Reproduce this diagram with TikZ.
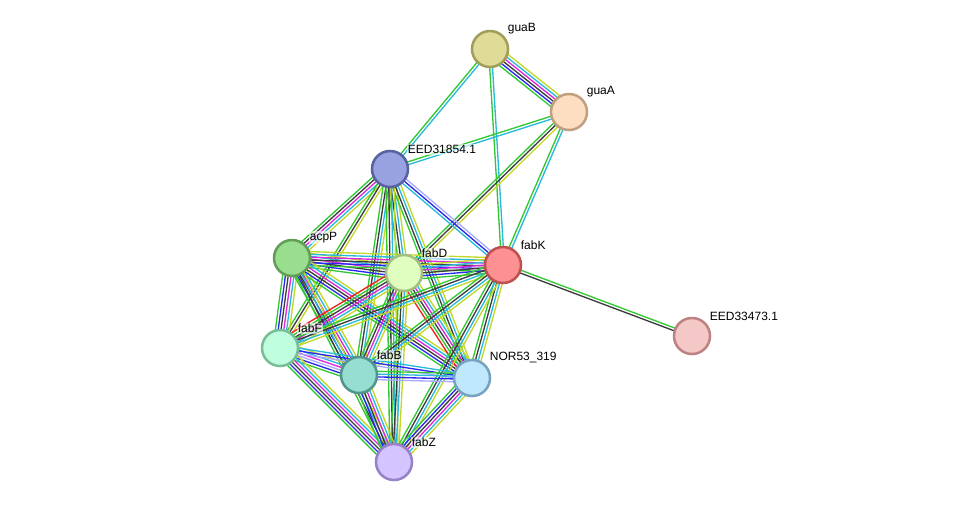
\documentclass[tikz,border=0pt]{standalone}
\usepackage{fontspec}
\setmainfont{Liberation Sans}
\usepackage{tikz}
\usetikzlibrary{calc,backgrounds}
\definecolor{nbh}{RGB}{50,200,50}
\definecolor{fus}{RGB}{240,30,30}
\definecolor{coc}{RGB}{40,40,240}
\definecolor{cox}{RGB}{60,60,60}
\definecolor{exp}{RGB}{220,40,220}
\definecolor{dbs}{RGB}{40,185,220}
\definecolor{txt}{RGB}{195,215,40}
\definecolor{hom}{RGB}{170,170,255}
\tikzset{
  prot/.style={circle,draw,line width=1.9pt,minimum size=27pt,inner sep=0pt},
  lab/.style={font=\fontsize{9}{10}\selectfont,inner sep=1pt,xshift=2pt,fill=white,fill opacity=0.6,text opacity=1},
  ln/.style={line width=1pt}
}
% several parallel lines per link, one per evidence channel
\newcommand{\lnk}[4]{%
  \foreach \c [count=\i] in {#4}{%
    \pgfmathsetmacro\o{(\i-(#3+1)/2)*2.1}%
    \draw[ln,\c] ($(#1)!\o pt!90:(#2)$) -- ($(#2)!\o pt!-90:(#1)$);
  }}

\begin{document}
\begin{tikzpicture}[x=0.75pt,y=-0.75pt]
\useasboundingbox (0,0) rectangle (976,508);
\node[prot,fill={rgb,255:red,222;green,220;blue,150},draw={rgb,255:red,160;green,158;blue,90},label={[lab]north east:guaB}] (guaB) at (490,49) {};
\node[prot,fill={rgb,255:red,253;green,222;blue,192},draw={rgb,255:red,192;green,160;blue,128},label={[lab]north east:guaA}] (guaA) at (569,112) {};
\node[prot,fill={rgb,255:red,152;green,162;blue,224},draw={rgb,255:red,88;green,98;blue,160},label={[lab]north east:EED31854.1}] (eed1) at (390,169) {};
\node[prot,fill={rgb,255:red,152;green,222;blue,142},draw={rgb,255:red,98;green,158;blue,88},label={[lab]north east:acpP}] (acpP) at (292,258) {};
\node[prot,fill={rgb,255:red,224;green,254;blue,192},draw={rgb,255:red,160;green,192;blue,128},label={[lab]north east:fabD}] (fabD) at (404,273) {};
\node[prot,fill={rgb,255:red,253;green,145;blue,145},draw={rgb,255:red,190;green,80;blue,80},label={[lab]north east:fabK}] (fabK) at (503,265) {};
\node[prot,fill={rgb,255:red,245;green,200;blue,200},draw={rgb,255:red,190;green,130;blue,130},label={[lab]north east:EED33473.1}] (eed2) at (692,336) {};
\node[prot,fill={rgb,255:red,192;green,254;blue,224},draw={rgb,255:red,120;green,190;blue,152},label={[lab]north east:fabF}] (fabF) at (280,348) {};
\node[prot,fill={rgb,255:red,150;green,222;blue,210},draw={rgb,255:red,80;green,150;blue,140},label={[lab]north east:fabB}] (fabB) at (359,375) {};
\node[prot,fill={rgb,255:red,192;green,232;blue,252},draw={rgb,255:red,120;green,162;blue,192},label={[lab]north east:NOR53\_319}] (nor) at (472,378) {};
\node[prot,fill={rgb,255:red,212;green,196;blue,255},draw={rgb,255:red,150;green,130;blue,200},label={[lab]north east:fabZ}] (fabZ) at (394,462) {};
\begin{pgfonlayer}{background}
\lnk{guaB}{guaA}{6}{nbh,coc,cox,exp,dbs,txt}
\lnk{guaB}{eed1}{2}{nbh,dbs}
\lnk{guaB}{fabK}{2}{nbh,dbs}
\lnk{guaA}{eed1}{2}{nbh,dbs}
\lnk{guaA}{fabD}{3}{nbh,cox,txt}
\lnk{guaA}{fabK}{2}{nbh,dbs}
\lnk{eed1}{fabK}{3}{dbs,coc,hom}
\lnk{eed1}{acpP}{5}{nbh,cox,exp,dbs,txt}
\lnk{eed1}{fabD}{4}{nbh,cox,dbs,txt}
\lnk{eed1}{fabF}{3}{nbh,cox,txt}
\lnk{eed1}{fabB}{4}{nbh,cox,dbs,txt}
\lnk{eed1}{nor}{4}{nbh,cox,dbs,txt}
\lnk{eed1}{fabZ}{4}{nbh,cox,dbs,txt}
\lnk{acpP}{fabD}{6}{nbh,coc,cox,exp,dbs,txt}
\lnk{acpP}{fabK}{6}{nbh,coc,cox,exp,dbs,txt}
\lnk{acpP}{fabF}{6}{nbh,coc,cox,exp,dbs,txt}
\lnk{acpP}{fabB}{6}{nbh,coc,cox,exp,dbs,txt}
\lnk{acpP}{nor}{6}{nbh,coc,cox,exp,dbs,txt}
\lnk{acpP}{fabZ}{4}{nbh,cox,dbs,txt}
\lnk{fabD}{fabK}{6}{nbh,coc,cox,exp,dbs,txt}
\lnk{fabD}{fabF}{6}{fus,nbh,cox,exp,dbs,txt}
\lnk{fabD}{fabB}{5}{nbh,cox,exp,dbs,txt}
\lnk{fabD}{nor}{6}{fus,nbh,cox,exp,dbs,txt}
\lnk{fabD}{fabZ}{4}{nbh,cox,dbs,txt}
\lnk{fabK}{fabF}{4}{nbh,cox,dbs,txt}
\lnk{fabK}{fabB}{4}{nbh,cox,dbs,txt}
\lnk{fabK}{nor}{4}{nbh,cox,dbs,txt}
\lnk{fabK}{fabZ}{4}{nbh,cox,dbs,txt}
\lnk{fabK}{eed2}{2}{cox,nbh}
\lnk{fabF}{fabB}{6}{nbh,coc,hom,exp,dbs,txt}
\lnk{fabF}{nor}{3}{hom,coc,dbs}
\lnk{fabF}{fabZ}{6}{nbh,coc,cox,exp,dbs,txt}
\lnk{fabB}{nor}{4}{hom,coc,dbs,nbh}
\lnk{fabB}{fabZ}{6}{nbh,coc,cox,exp,dbs,txt}
\lnk{nor}{fabZ}{6}{nbh,coc,cox,exp,dbs,txt}
\end{pgfonlayer}
\end{tikzpicture}
\end{document}
